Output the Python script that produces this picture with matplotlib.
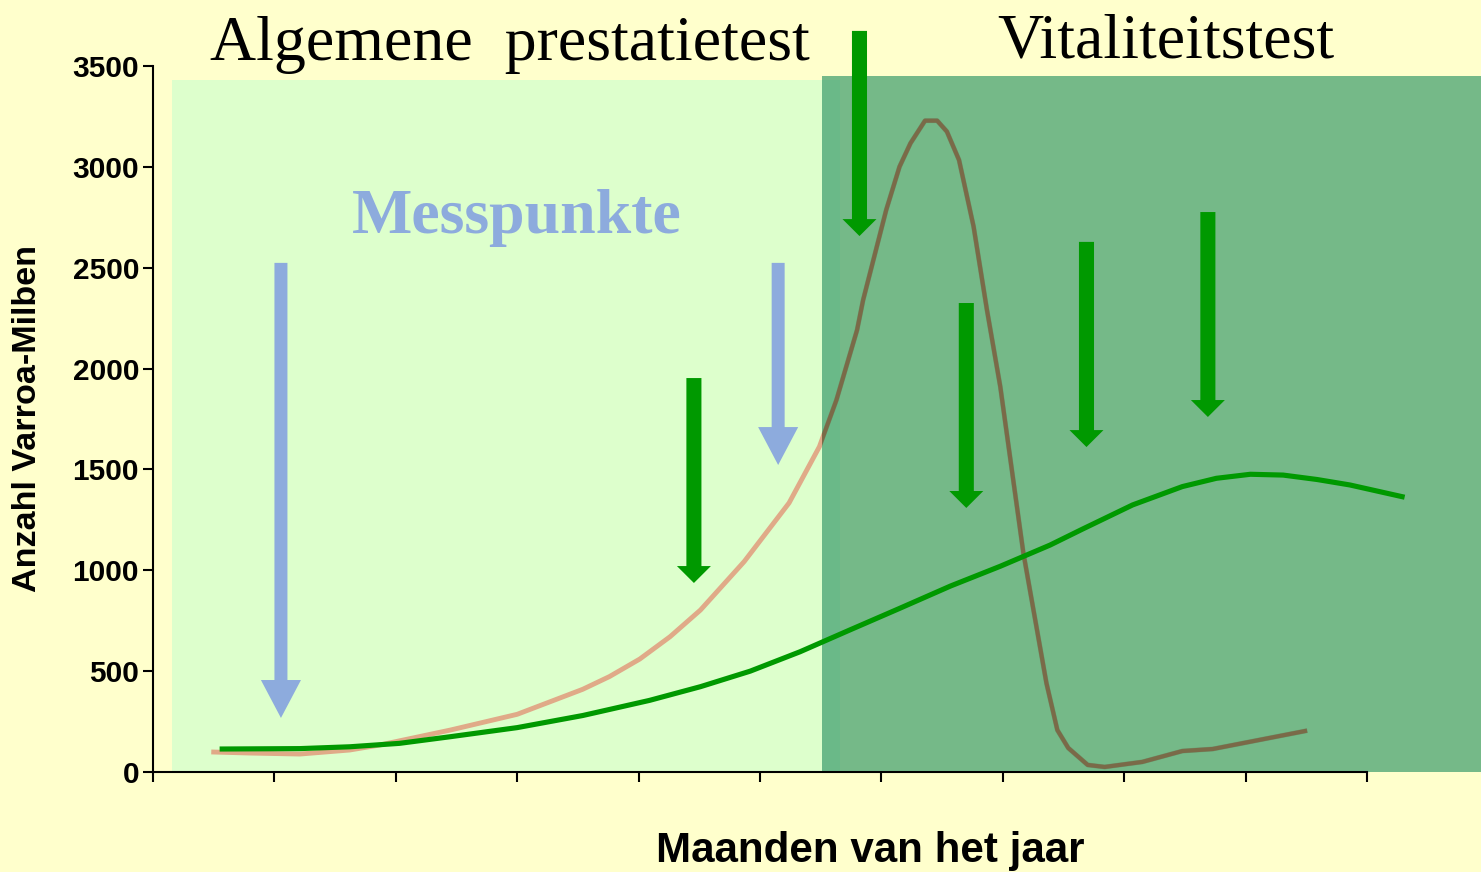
import matplotlib
matplotlib.use('Agg')
import matplotlib.pyplot as plt
from matplotlib.patches import Rectangle, FancyArrow

# mite population (brood-infested) - tan in test period 1, brown in test period 2
mites_x = [0.50, 0.80, 1.21, 1.62, 1.87, 2.45, 3.00, 3.54, 3.76, 4.01, 4.26, 4.51, 4.87,
           5.24, 5.49, 5.63, 5.80, 5.85, 6.04, 6.15, 6.24, 6.36, 6.46, 6.54, 6.64, 6.76,
           6.87, 6.98, 7.17, 7.36, 7.45, 7.54, 7.70, 7.84, 8.15, 8.48, 8.73, 9.49]
mites_y = [99, 94, 89, 109, 134, 208, 286, 410, 473, 560, 671, 803, 1043,
           1334, 1613, 1844, 2191, 2340, 2786, 3001, 3117, 3229, 3229, 3175, 3034, 2704,
           2291, 1910, 1086, 441, 208, 119, 35, 25, 50, 104, 114, 203]

# mite population (resistant colony)
green_x = [0.57, 1.21, 1.62, 2.03, 2.45, 3.00, 3.54, 4.09, 4.51, 4.92, 5.33, 5.74, 6.15,
           6.57, 6.98, 7.39, 7.66, 8.07, 8.48, 8.76, 9.04, 9.31, 9.59, 9.86, 10.29]
green_y = [114, 116, 125, 142, 175, 220, 280, 355, 423, 500, 596, 704, 811,
           922, 1020, 1125, 1205, 1324, 1415, 1456, 1476, 1472, 1450, 1423, 1365]

# measuring moments (blue) and treatment moments (green)
blue_arrow_x = [1.054, 5.15]
blue_arrow_top = [2524, 2524]
blue_arrow_tip = [268, 1522]
green_arrow_x = [4.456, 5.82, 6.70, 7.69, 8.69]
green_arrow_top = [1953, 3674, 2325, 2628, 2776]
green_arrow_tip = [937, 2657, 1309, 1611, 1760]

y_ticks = [0, 500, 1000, 1500, 2000, 2500, 3000, 3500]
x_ticks = list(range(11))

bg = '#FFFFCC'
fig = plt.figure(figsize=(14.81, 8.72), dpi=100, facecolor=bg)
ax = fig.add_axes([153 / 1481, 100 / 872, 1 - 153 / 1481, 706 / 872])
ax.set_facecolor('none')
ax.set_xlim(0, 10.94)
ax.set_ylim(0, 3500)

light = Rectangle((0.157, 0), 5.66 - 0.157, 3431, facecolor='#DDFFCC', edgecolor='none', zorder=0.5)
dark = Rectangle((5.51, 0), 10.94 - 5.51, 3451, facecolor=(52 / 255, 152 / 255, 104 / 255),
                 alpha=0.68, edgecolor='none', zorder=2)
ax.add_patch(light)
ax.plot(mites_x, mites_y, color='#E0AA88', lw=3.5, zorder=1, solid_joinstyle='round')
ax.add_patch(dark)
brown, = ax.plot(mites_x, mites_y, color='#7A6A48', lw=3, zorder=3, solid_joinstyle='round')
brown.set_clip_path(dark)
ax.plot(green_x, green_y, color='#009900', lw=3.7, zorder=4, clip_on=False,
        solid_joinstyle='round')

for x, top, tip in zip(blue_arrow_x, blue_arrow_top, blue_arrow_tip):
    ax.add_patch(FancyArrow(x, top, 0, tip - top, width=0.107, head_width=0.33,
                            head_length=188, length_includes_head=True,
                            color='#8DABDD', lw=0, zorder=5, clip_on=False))
for x, top, tip in zip(green_arrow_x, green_arrow_top, green_arrow_tip):
    ax.add_patch(FancyArrow(x, top, 0, tip - top, width=0.124, head_width=0.28,
                            head_length=84, length_includes_head=True,
                            color='#009900', lw=0, zorder=5, clip_on=False))

for s in ['top', 'right']:
    ax.spines[s].set_visible(False)
ax.spines['left'].set_bounds(0, 3500)
ax.spines['bottom'].set_bounds(0, 10)
for s in ['left', 'bottom']:
    ax.spines[s].set_linewidth(1.5)
ax.set_xticks(x_ticks)
ax.set_xticklabels([])
ax.set_yticks(y_ticks)
ax.set_yticklabels([str(v) for v in y_ticks], fontsize=21.5, fontweight='bold', family='Liberation Sans')
ax.tick_params(length=7, width=1.5, pad=3)

fig.text(210 / 1481, (872 - 60) / 872, 'Algemene  prestatietest', family='Liberation Serif',
         fontsize=46, va='baseline', ha='left')
fig.text(997 / 1481, (872 - 57) / 872, 'Vitaliteitstest', family='Liberation Serif',
         fontsize=46, va='baseline', ha='left')
fig.text(352 / 1481, (872 - 233) / 872, 'Messpunkte', family='Liberation Serif',
         fontsize=46, fontweight='bold', color='#8DABDD', va='baseline', ha='left')
fig.text(870 / 1481, (872 - 862) / 872, 'Maanden van het jaar', family='Liberation Sans',
         fontsize=30.3, fontweight='bold', va='baseline', ha='center')
fig.text(28 / 1481, (872 - 418) / 872, 'Anzahl Varroa-Milben', family='Liberation Sans',
         fontsize=24.6, fontweight='bold', rotation=90, va='center', ha='center')

fig.savefig('out.png', dpi=100, facecolor=bg)
